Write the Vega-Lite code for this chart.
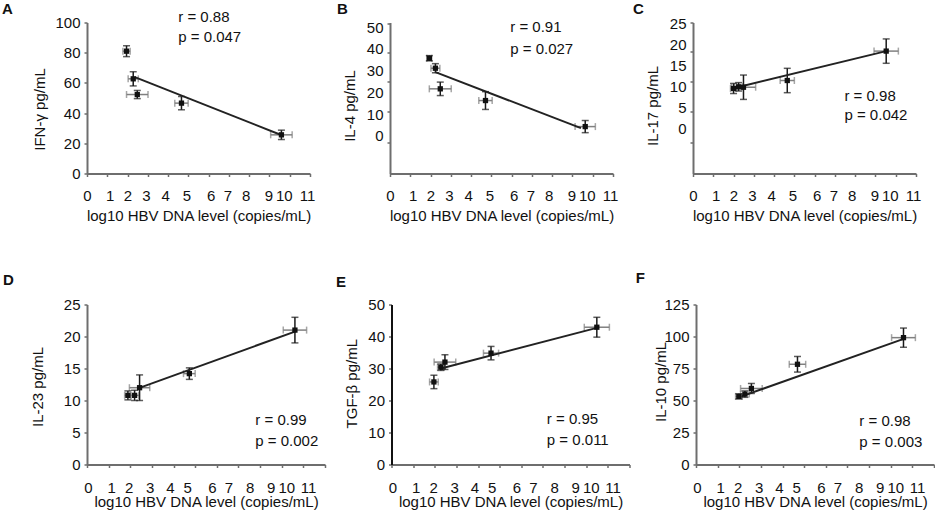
{
  "$schema": "https://vega.github.io/schema/vega-lite/v6.json",
  "padding": {"left": 2, "top": 1.5, "right": 0, "bottom": 0},
  "datasets": {
    "cyto": [
      {"panel": "A", "kind": "obs", "dna": 1.95, "level": 81.0, "ex": 0.18, "ey": 3.6},
      {"panel": "A", "kind": "obs", "dna": 2.28, "level": 62.7, "ex": 0.25, "ey": 4.7},
      {"panel": "A", "kind": "obs", "dna": 2.48, "level": 52.3, "ex": 0.53, "ey": 2.7},
      {"panel": "A", "kind": "obs", "dna": 4.66, "level": 46.6, "ex": 0.33, "ey": 4.4},
      {"panel": "A", "kind": "obs", "dna": 9.59, "level": 25.6, "ex": 0.53, "ey": 3.1},
      {"panel": "A", "kind": "fit", "dna": 2.36, "level": 63.8},
      {"panel": "A", "kind": "fit", "dna": 9.64, "level": 25.2},
      {"panel": "B", "kind": "obs", "dna": 1.94, "level": 35.7, "ex": 0.12, "ey": 1.2},
      {"panel": "B", "kind": "obs", "dna": 2.24, "level": 31.1, "ex": 0.22, "ey": 2.1},
      {"panel": "B", "kind": "obs", "dna": 2.48, "level": 21.6, "ex": 0.54, "ey": 3.1},
      {"panel": "B", "kind": "obs", "dna": 4.71, "level": 16.2, "ex": 0.33, "ey": 4.1},
      {"panel": "B", "kind": "obs", "dna": 9.63, "level": 4.2, "ex": 0.5, "ey": 2.8},
      {"panel": "B", "kind": "fit", "dna": 2.24, "level": 29.3},
      {"panel": "B", "kind": "fit", "dna": 9.42, "level": 3.5},
      {"panel": "C", "kind": "obs", "dna": 2.0, "level": 9.6, "ex": 0.15, "ey": 1.2},
      {"panel": "C", "kind": "obs", "dna": 2.25, "level": 10.0, "ex": 0.2, "ey": 1.0},
      {"panel": "C", "kind": "obs", "dna": 2.49, "level": 9.9, "ex": 0.6, "ey": 2.9},
      {"panel": "C", "kind": "obs", "dna": 4.65, "level": 11.5, "ex": 0.35, "ey": 2.9},
      {"panel": "C", "kind": "obs", "dna": 9.53, "level": 18.5, "ex": 0.6, "ey": 2.9},
      {"panel": "C", "kind": "fit", "dna": 2.2, "level": 9.9},
      {"panel": "C", "kind": "fit", "dna": 9.53, "level": 18.5},
      {"panel": "D", "kind": "obs", "dna": 1.89, "level": 10.8, "ex": 0.15, "ey": 0.7},
      {"panel": "D", "kind": "obs", "dna": 2.2, "level": 10.8, "ex": 0.2, "ey": 0.8},
      {"panel": "D", "kind": "obs", "dna": 2.43, "level": 12.0, "ex": 0.47, "ey": 2.0},
      {"panel": "D", "kind": "obs", "dna": 4.73, "level": 14.2, "ex": 0.27, "ey": 0.9},
      {"panel": "D", "kind": "obs", "dna": 9.61, "level": 21.0, "ex": 0.54, "ey": 2.0},
      {"panel": "D", "kind": "fit", "dna": 2.36, "level": 11.9},
      {"panel": "D", "kind": "fit", "dna": 9.64, "level": 20.8},
      {"panel": "E", "kind": "obs", "dna": 1.96, "level": 25.8, "ex": 0.2, "ey": 2.1},
      {"panel": "E", "kind": "obs", "dna": 2.28, "level": 30.4, "ex": 0.15, "ey": 1.0},
      {"panel": "E", "kind": "obs", "dna": 2.47, "level": 32.0, "ex": 0.5, "ey": 2.3},
      {"panel": "E", "kind": "obs", "dna": 4.6, "level": 34.8, "ex": 0.35, "ey": 2.1},
      {"panel": "E", "kind": "obs", "dna": 9.49, "level": 42.9, "ex": 0.58, "ey": 3.1},
      {"panel": "E", "kind": "fit", "dna": 2.24, "level": 29.9},
      {"panel": "E", "kind": "fit", "dna": 9.49, "level": 42.7},
      {"panel": "F", "kind": "obs", "dna": 1.98, "level": 53.2, "ex": 0.15, "ey": 2.0},
      {"panel": "F", "kind": "obs", "dna": 2.26, "level": 55.0, "ex": 0.2, "ey": 2.5},
      {"panel": "F", "kind": "obs", "dna": 2.56, "level": 59.4, "ex": 0.5, "ey": 3.9},
      {"panel": "F", "kind": "obs", "dna": 4.69, "level": 78.3, "ex": 0.38, "ey": 6.1},
      {"panel": "F", "kind": "obs", "dna": 9.59, "level": 99.1, "ex": 0.55, "ey": 7.5},
      {"panel": "F", "kind": "fit", "dna": 2.1, "level": 53.2},
      {"panel": "F", "kind": "fit", "dna": 9.63, "level": 98.3}
    ],
    "stats": [
      {"panel": "A", "r": "r = 0.88", "p": "p = 0.047"},
      {"panel": "B", "r": "r = 0.91", "p": "p = 0.027"},
      {"panel": "C", "r": "r = 0.98", "p": "p = 0.042"},
      {"panel": "D", "r": "r = 0.99", "p": "p = 0.002"},
      {"panel": "E", "r": "r = 0.95", "p": "p = 0.011"},
      {"panel": "F", "r": "r = 0.98", "p": "p = 0.003"}
    ]
  },
  "data": {"name": "cyto"},
  "spacing": 47,
  "vconcat": [
    {
      "bounds": "flush",
      "spacing": 80,
      "hconcat": [
        {
          "width": 223, "height": 151,
          "encoding": {
            "x": {"type": "quantitative", "title": "log10 HBV DNA level (copies/mL)",
              "scale": {"domain": [0, 11], "nice": false},
              "axis": {"values": [0, 1, 2, 3, 4, 5, 6, 7, 8, 9, 10, 11], "labelPadding": 24, "titleY": 46.5,
                "labelOffset": {"condition": [
                  {"test": "datum.value == 1", "value": 2.5}, {"test": "datum.value == 3", "value": -2},
                  {"test": "datum.value == 4", "value": -3}, {"test": "datum.value == 5", "value": -2},
                  {"test": "datum.value == 6", "value": 2}, {"test": "datum.value == 7", "value": -1.5},
                  {"test": "datum.value == 8", "value": -3.5}, {"test": "datum.value == 9", "value": -1},
                  {"test": "datum.value == 10", "value": -6}, {"test": "datum.value == 11", "value": -3}], "value": 0}}},
            "y": {"type": "quantitative", "title": "IFN-γ pg/mL",
              "scale": {"domain": [0, 100], "nice": false, "zero": false},
              "axis": {"values": [0, 20, 40, 60, 80, 100], "titleX": -47.5, "titleY": 86.5}}
          },
          "layer": [
            {"transform": [{"filter": "datum.panel == 'A' && datum.kind == 'obs'"}], "mark": {"type": "errorbar", "ticks": true, "size": 7, "thickness": 1.5, "color": "#808080"}, "encoding": {"x": {"field": "dna"}, "y": {"field": "level"}, "xError": {"field": "ex"}}},
            {"transform": [{"filter": "datum.panel == 'A' && datum.kind == 'obs'"}], "mark": {"type": "errorbar", "ticks": true, "size": 7, "thickness": 1.5, "color": "#1a1a1a"}, "encoding": {"x": {"field": "dna"}, "y": {"field": "level"}, "yError": {"field": "ey"}}},
            {"transform": [{"filter": "datum.panel == 'A' && datum.kind == 'fit'"}], "mark": {"type": "line", "color": "#222222", "strokeWidth": 2}, "encoding": {"x": {"field": "dna"}, "y": {"field": "level"}}},
            {"transform": [{"filter": "datum.panel == 'A' && datum.kind == 'obs'"}], "mark": {"type": "point", "shape": "square", "filled": true, "size": 28, "color": "#111111", "opacity": 1}, "encoding": {"x": {"field": "dna"}, "y": {"field": "level"}}},
            {"data": {"name": "stats"}, "transform": [{"filter": "datum.panel == 'A'"}], "mark": {"type": "text", "align": "left", "baseline": "alphabetic", "fontSize": 15, "fontWeight": "bold", "color": "#111111"}, "encoding": {"x": {"datum": -4.19}, "y": {"datum": 105.8}, "text": {"field": "panel", "type": "nominal"}}},
            {"data": {"name": "stats"}, "transform": [{"filter": "datum.panel == 'A'"}], "mark": {"type": "text", "align": "left", "baseline": "middle", "fontSize": 15, "color": "#111111"}, "encoding": {"x": {"datum": 4.5}, "y": {"datum": 103.5}, "text": {"field": "r", "type": "nominal"}}},
            {"data": {"name": "stats"}, "transform": [{"filter": "datum.panel == 'A'"}], "mark": {"type": "text", "align": "left", "baseline": "middle", "fontSize": 15, "color": "#111111"}, "encoding": {"x": {"datum": 4.5}, "y": {"datum": 90.3}, "text": {"field": "p", "type": "nominal"}}}
          ]
        },
        {
          "width": 223, "height": 151,
          "encoding": {
            "x": {"type": "quantitative", "title": "log10 HBV DNA level (copies/mL)",
              "scale": {"domain": [0, 11], "nice": false},
              "axis": {"values": [0, 1, 2, 3, 4, 5, 6, 7, 8, 9, 10, 11], "labelPadding": 24, "titleY": 46.5,
                "labelOffset": {"condition": [
                  {"test": "datum.value == 1", "value": 2.5}, {"test": "datum.value == 3", "value": -2},
                  {"test": "datum.value == 4", "value": -3}, {"test": "datum.value == 5", "value": -2},
                  {"test": "datum.value == 6", "value": 2}, {"test": "datum.value == 7", "value": -1.5},
                  {"test": "datum.value == 8", "value": -3.5}, {"test": "datum.value == 9", "value": -1},
                  {"test": "datum.value == 10", "value": -6}, {"test": "datum.value == 11", "value": -3}], "value": 0}}},
            "y": {"type": "quantitative", "title": "IL-4 pg/mL",
              "scale": {"domain": [-17.42, 52.17], "nice": false, "zero": false},
              "axis": {"values": [0, 10, 20, 30, 40, 50, 51.93, 38.25, 24.82, 11.2, -3.0],
                "labelExpr": "datum.value % 10 == 0 ? datum.label : ''",
                "tickOpacity": {"condition": {"test": "datum.value % 10 == 0", "value": 0}, "value": 1},
                "titleX": -40.5, "titleY": 83}}
          },
          "layer": [
            {"transform": [{"filter": "datum.panel == 'B' && datum.kind == 'obs'"}], "mark": {"type": "errorbar", "ticks": true, "size": 7, "thickness": 1.5, "color": "#808080"}, "encoding": {"x": {"field": "dna"}, "y": {"field": "level"}, "xError": {"field": "ex"}}},
            {"transform": [{"filter": "datum.panel == 'B' && datum.kind == 'obs'"}], "mark": {"type": "errorbar", "ticks": true, "size": 7, "thickness": 1.5, "color": "#1a1a1a"}, "encoding": {"x": {"field": "dna"}, "y": {"field": "level"}, "yError": {"field": "ey"}}},
            {"transform": [{"filter": "datum.panel == 'B' && datum.kind == 'fit'"}], "mark": {"type": "line", "color": "#222222", "strokeWidth": 2}, "encoding": {"x": {"field": "dna"}, "y": {"field": "level"}}},
            {"transform": [{"filter": "datum.panel == 'B' && datum.kind == 'obs'"}], "mark": {"type": "point", "shape": "square", "filled": true, "size": 28, "color": "#111111", "opacity": 1}, "encoding": {"x": {"field": "dna"}, "y": {"field": "level"}}},
            {"data": {"name": "stats"}, "transform": [{"filter": "datum.panel == 'B'"}], "mark": {"type": "text", "align": "left", "baseline": "alphabetic", "fontSize": 15, "fontWeight": "bold", "color": "#111111"}, "encoding": {"x": {"datum": -2.61}, "y": {"datum": 56.2}, "text": {"field": "panel", "type": "nominal"}}},
            {"data": {"name": "stats"}, "transform": [{"filter": "datum.panel == 'B'"}], "mark": {"type": "text", "align": "left", "baseline": "middle", "fontSize": 15, "color": "#111111"}, "encoding": {"x": {"datum": 5.93}, "y": {"datum": 50}, "text": {"field": "r", "type": "nominal"}}},
            {"data": {"name": "stats"}, "transform": [{"filter": "datum.panel == 'B'"}], "mark": {"type": "text", "align": "left", "baseline": "middle", "fontSize": 15, "color": "#111111"}, "encoding": {"x": {"datum": 5.93}, "y": {"datum": 40}, "text": {"field": "p", "type": "nominal"}}}
          ]
        },
        {
          "width": 223, "height": 151,
          "encoding": {
            "x": {"type": "quantitative", "title": "log10 HBV DNA level (copies/mL)",
              "scale": {"domain": [0, 11], "nice": false},
              "axis": {"values": [0, 1, 2, 3, 4, 5, 6, 7, 8, 9, 10, 11], "labelPadding": 24, "titleY": 46.5,
                "labelOffset": {"condition": [
                  {"test": "datum.value == 1", "value": 2.5}, {"test": "datum.value == 3", "value": -2},
                  {"test": "datum.value == 4", "value": -3}, {"test": "datum.value == 5", "value": -2},
                  {"test": "datum.value == 6", "value": 2}, {"test": "datum.value == 7", "value": -1.5},
                  {"test": "datum.value == 8", "value": -3.5}, {"test": "datum.value == 9", "value": -1},
                  {"test": "datum.value == 10", "value": -6}, {"test": "datum.value == 11", "value": -3}], "value": 0}}},
            "y": {"type": "quantitative", "title": "IL-17 pg/mL",
              "scale": {"domain": [-10.64, 25.31], "nice": false, "zero": false},
              "axis": {"values": [0, 5, 10, 15, 20, 25, 25.3, 18.48, 11.33, 4.19, -3.19],
                "labelExpr": "datum.value % 5 == 0 ? datum.label : ''",
                "tickOpacity": {"condition": {"test": "datum.value % 5 == 0", "value": 0}, "value": 1},
                "titleX": -41, "titleY": 83}}
          },
          "layer": [
            {"transform": [{"filter": "datum.panel == 'C' && datum.kind == 'obs'"}], "mark": {"type": "errorbar", "ticks": true, "size": 7, "thickness": 1.5, "color": "#808080"}, "encoding": {"x": {"field": "dna"}, "y": {"field": "level"}, "xError": {"field": "ex"}}},
            {"transform": [{"filter": "datum.panel == 'C' && datum.kind == 'obs'"}], "mark": {"type": "errorbar", "ticks": true, "size": 7, "thickness": 1.5, "color": "#1a1a1a"}, "encoding": {"x": {"field": "dna"}, "y": {"field": "level"}, "yError": {"field": "ey"}}},
            {"transform": [{"filter": "datum.panel == 'C' && datum.kind == 'fit'"}], "mark": {"type": "line", "color": "#222222", "strokeWidth": 2}, "encoding": {"x": {"field": "dna"}, "y": {"field": "level"}}},
            {"transform": [{"filter": "datum.panel == 'C' && datum.kind == 'obs'"}], "mark": {"type": "point", "shape": "square", "filled": true, "size": 28, "color": "#111111", "opacity": 1}, "encoding": {"x": {"field": "dna"}, "y": {"field": "level"}}},
            {"data": {"name": "stats"}, "transform": [{"filter": "datum.panel == 'C'"}], "mark": {"type": "text", "align": "left", "baseline": "alphabetic", "fontSize": 15, "fontWeight": "bold", "color": "#111111"}, "encoding": {"x": {"datum": -2.96}, "y": {"datum": 27.38}, "text": {"field": "panel", "type": "nominal"}}},
            {"data": {"name": "stats"}, "transform": [{"filter": "datum.panel == 'C'"}], "mark": {"type": "text", "align": "left", "baseline": "middle", "fontSize": 15, "color": "#111111"}, "encoding": {"x": {"datum": 7.47}, "y": {"datum": 7.93}, "text": {"field": "r", "type": "nominal"}}},
            {"data": {"name": "stats"}, "transform": [{"filter": "datum.panel == 'C'"}], "mark": {"type": "text", "align": "left", "baseline": "middle", "fontSize": 15, "color": "#111111"}, "encoding": {"x": {"datum": 7.47}, "y": {"datum": 3.17}, "text": {"field": "p", "type": "nominal"}}}
          ]
        }
      ]
    },
    {
      "bounds": "flush",
      "spacing": 66.5,
      "hconcat": [
        {
          "width": 238, "height": 160,
          "encoding": {
            "x": {"type": "quantitative", "title": "log10 HBV DNA level (copies/mL)",
              "scale": {"domain": [0, 11], "nice": false},
              "axis": {"values": [0, 1, 2, 3, 4, 5, 6, 7, 8, 9, 10, 11], "labelPadding": 25, "titleY": 42,
                "labelOffset": {"condition": [
                  {"test": "datum.value == 0", "value": 1}, {"test": "datum.value == 1", "value": 2.5},
                  {"test": "datum.value == 2", "value": -1.5}, {"test": "datum.value == 3", "value": -2.2},
                  {"test": "datum.value == 4", "value": -3.5}, {"test": "datum.value == 5", "value": -8},
                  {"test": "datum.value == 6", "value": -5}, {"test": "datum.value == 7", "value": -10},
                  {"test": "datum.value == 8", "value": -10.5}, {"test": "datum.value == 9", "value": -11},
                  {"test": "datum.value == 10", "value": -17}, {"test": "datum.value == 11", "value": -17}], "value": 0}}},
            "y": {"type": "quantitative", "title": "IL-23 pg/mL",
              "scale": {"domain": [0, 25], "nice": false, "zero": false},
              "axis": {"values": [0, 5, 10, 15, 20, 25], "titleX": -50, "titleY": 82}}
          },
          "layer": [
            {"transform": [{"filter": "datum.panel == 'D' && datum.kind == 'obs'"}], "mark": {"type": "errorbar", "ticks": true, "size": 7, "thickness": 1.5, "color": "#808080"}, "encoding": {"x": {"field": "dna"}, "y": {"field": "level"}, "xError": {"field": "ex"}}},
            {"transform": [{"filter": "datum.panel == 'D' && datum.kind == 'obs'"}], "mark": {"type": "errorbar", "ticks": true, "size": 7, "thickness": 1.5, "color": "#1a1a1a"}, "encoding": {"x": {"field": "dna"}, "y": {"field": "level"}, "yError": {"field": "ey"}}},
            {"transform": [{"filter": "datum.panel == 'D' && datum.kind == 'fit'"}], "mark": {"type": "line", "color": "#222222", "strokeWidth": 2}, "encoding": {"x": {"field": "dna"}, "y": {"field": "level"}}},
            {"transform": [{"filter": "datum.panel == 'D' && datum.kind == 'obs'"}], "mark": {"type": "point", "shape": "square", "filled": true, "size": 28, "color": "#111111", "opacity": 1}, "encoding": {"x": {"field": "dna"}, "y": {"field": "level"}}},
            {"data": {"name": "stats"}, "transform": [{"filter": "datum.panel == 'D'"}], "mark": {"type": "text", "align": "left", "baseline": "alphabetic", "fontSize": 15, "fontWeight": "bold", "color": "#111111"}, "encoding": {"x": {"datum": -3.88}, "y": {"datum": 28.08}, "text": {"field": "panel", "type": "nominal"}}},
            {"data": {"name": "stats"}, "transform": [{"filter": "datum.panel == 'D'"}], "mark": {"type": "text", "align": "left", "baseline": "middle", "fontSize": 15, "color": "#111111"}, "encoding": {"x": {"datum": 7.78}, "y": {"datum": 7.0}, "text": {"field": "r", "type": "nominal"}}},
            {"data": {"name": "stats"}, "transform": [{"filter": "datum.panel == 'D'"}], "mark": {"type": "text", "align": "left", "baseline": "middle", "fontSize": 15, "color": "#111111"}, "encoding": {"x": {"datum": 7.78}, "y": {"datum": 3.75}, "text": {"field": "p", "type": "nominal"}}}
          ]
        },
        {
          "width": 238, "height": 160,
          "encoding": {
            "x": {"type": "quantitative", "title": "log10 HBV DNA level (copies/mL)",
              "scale": {"domain": [0, 11], "nice": false},
              "axis": {"values": [0, 1, 2, 3, 4, 5, 6, 7, 8, 9, 10, 11], "labelPadding": 25, "titleY": 42,
                "labelOffset": {"condition": [
                  {"test": "datum.value == 0", "value": 1}, {"test": "datum.value == 1", "value": 2.5},
                  {"test": "datum.value == 2", "value": -1.5}, {"test": "datum.value == 3", "value": -2.2},
                  {"test": "datum.value == 4", "value": -3.5}, {"test": "datum.value == 5", "value": -8},
                  {"test": "datum.value == 6", "value": -5}, {"test": "datum.value == 7", "value": -10},
                  {"test": "datum.value == 8", "value": -10.5}, {"test": "datum.value == 9", "value": -11},
                  {"test": "datum.value == 10", "value": -17}, {"test": "datum.value == 11", "value": -17}], "value": 0}}},
            "y": {"type": "quantitative", "title": "TGF-β pg/mL",
              "scale": {"domain": [0, 50], "nice": false, "zero": false},
              "axis": {"values": [0, 10, 20, 30, 40, 50], "titleX": -40, "titleY": 78.7, "domainColor": "#111111"}}
          },
          "layer": [
            {"transform": [{"filter": "datum.panel == 'E' && datum.kind == 'obs'"}], "mark": {"type": "errorbar", "ticks": true, "size": 7, "thickness": 1.5, "color": "#808080"}, "encoding": {"x": {"field": "dna"}, "y": {"field": "level"}, "xError": {"field": "ex"}}},
            {"transform": [{"filter": "datum.panel == 'E' && datum.kind == 'obs'"}], "mark": {"type": "errorbar", "ticks": true, "size": 7, "thickness": 1.5, "color": "#1a1a1a"}, "encoding": {"x": {"field": "dna"}, "y": {"field": "level"}, "yError": {"field": "ey"}}},
            {"transform": [{"filter": "datum.panel == 'E' && datum.kind == 'fit'"}], "mark": {"type": "line", "color": "#222222", "strokeWidth": 2}, "encoding": {"x": {"field": "dna"}, "y": {"field": "level"}}},
            {"transform": [{"filter": "datum.panel == 'E' && datum.kind == 'obs'"}], "mark": {"type": "point", "shape": "square", "filled": true, "size": 28, "color": "#111111", "opacity": 1}, "encoding": {"x": {"field": "dna"}, "y": {"field": "level"}}},
            {"data": {"name": "stats"}, "transform": [{"filter": "datum.panel == 'E'"}], "mark": {"type": "text", "align": "left", "baseline": "alphabetic", "fontSize": 15, "fontWeight": "bold", "color": "#111111"}, "encoding": {"x": {"datum": -2.56}, "y": {"datum": 55.6}, "text": {"field": "panel", "type": "nominal"}}},
            {"data": {"name": "stats"}, "transform": [{"filter": "datum.panel == 'E'"}], "mark": {"type": "text", "align": "left", "baseline": "middle", "fontSize": 15, "color": "#111111"}, "encoding": {"x": {"datum": 7.18}, "y": {"datum": 14.3}, "text": {"field": "r", "type": "nominal"}}},
            {"data": {"name": "stats"}, "transform": [{"filter": "datum.panel == 'E'"}], "mark": {"type": "text", "align": "left", "baseline": "middle", "fontSize": 15, "color": "#111111"}, "encoding": {"x": {"datum": 7.18}, "y": {"datum": 7.8}, "text": {"field": "p", "type": "nominal"}}}
          ]
        },
        {
          "width": 238, "height": 160,
          "encoding": {
            "x": {"type": "quantitative", "title": "log10 HBV DNA level (copies/mL)",
              "scale": {"domain": [0, 11], "nice": false},
              "axis": {"values": [0, 1, 2, 3, 4, 5, 6, 7, 8, 9, 10, 11], "labelPadding": 25, "titleY": 42,
                "labelOffset": {"condition": [
                  {"test": "datum.value == 0", "value": 1}, {"test": "datum.value == 1", "value": 2.5},
                  {"test": "datum.value == 2", "value": -1.5}, {"test": "datum.value == 3", "value": -2.2},
                  {"test": "datum.value == 4", "value": -3.5}, {"test": "datum.value == 5", "value": -8},
                  {"test": "datum.value == 6", "value": -5}, {"test": "datum.value == 7", "value": -10},
                  {"test": "datum.value == 8", "value": -10.5}, {"test": "datum.value == 9", "value": -11},
                  {"test": "datum.value == 10", "value": -17}, {"test": "datum.value == 11", "value": -17}], "value": 0}}},
            "y": {"type": "quantitative", "title": "IL-10 pg/mL",
              "scale": {"domain": [0, 125], "nice": false, "zero": false},
              "axis": {"values": [0, 25, 50, 75, 100, 125], "titleX": -35.3, "titleY": 77}}
          },
          "layer": [
            {"transform": [{"filter": "datum.panel == 'F' && datum.kind == 'obs'"}], "mark": {"type": "errorbar", "ticks": true, "size": 7, "thickness": 1.5, "color": "#808080"}, "encoding": {"x": {"field": "dna"}, "y": {"field": "level"}, "xError": {"field": "ex"}}},
            {"transform": [{"filter": "datum.panel == 'F' && datum.kind == 'obs'"}], "mark": {"type": "errorbar", "ticks": true, "size": 7, "thickness": 1.5, "color": "#1a1a1a"}, "encoding": {"x": {"field": "dna"}, "y": {"field": "level"}, "yError": {"field": "ey"}}},
            {"transform": [{"filter": "datum.panel == 'F' && datum.kind == 'fit'"}], "mark": {"type": "line", "color": "#222222", "strokeWidth": 2}, "encoding": {"x": {"field": "dna"}, "y": {"field": "level"}}},
            {"transform": [{"filter": "datum.panel == 'F' && datum.kind == 'obs'"}], "mark": {"type": "point", "shape": "square", "filled": true, "size": 28, "color": "#111111", "opacity": 1}, "encoding": {"x": {"field": "dna"}, "y": {"field": "level"}}},
            {"data": {"name": "stats"}, "transform": [{"filter": "datum.panel == 'F'"}], "mark": {"type": "text", "align": "left", "baseline": "alphabetic", "fontSize": 15, "fontWeight": "bold", "color": "#111111"}, "encoding": {"x": {"datum": -2.79}, "y": {"datum": 141.6}, "text": {"field": "panel", "type": "nominal"}}},
            {"data": {"name": "stats"}, "transform": [{"filter": "datum.panel == 'F'"}], "mark": {"type": "text", "align": "left", "baseline": "middle", "fontSize": 15, "color": "#111111"}, "encoding": {"x": {"datum": 7.55}, "y": {"datum": 34.2}, "text": {"field": "r", "type": "nominal"}}},
            {"data": {"name": "stats"}, "transform": [{"filter": "datum.panel == 'F'"}], "mark": {"type": "text", "align": "left", "baseline": "middle", "fontSize": 15, "color": "#111111"}, "encoding": {"x": {"datum": 7.55}, "y": {"datum": 17.9}, "text": {"field": "p", "type": "nominal"}}}
          ]
        }
      ]
    }
  ],
  "config": {
    "view": {"stroke": null},
    "font": "Liberation Sans",
    "axis": {
      "grid": false,
      "domainColor": "#6e6e6e",
      "domainWidth": 2,
      "tickColor": "#6e6e6e",
      "tickSize": 3,
      "tickWidth": 1.5,
      "labelFont": "Liberation Sans",
      "labelFontSize": 15,
      "labelColor": "#111111",
      "labelOverlap": false,
      "labelBound": false,
      "labelFlush": false,
      "titleFont": "Liberation Sans",
      "titleFontSize": 15,
      "titleFontWeight": "normal",
      "titleColor": "#111111"
    },
    "axisY": {"labelPadding": 4, "titleBaseline": "middle"},
    "axisX": {"labelBaseline": "alphabetic", "titleBaseline": "alphabetic"},
    "text": {"font": "Liberation Sans"}
  }
}
